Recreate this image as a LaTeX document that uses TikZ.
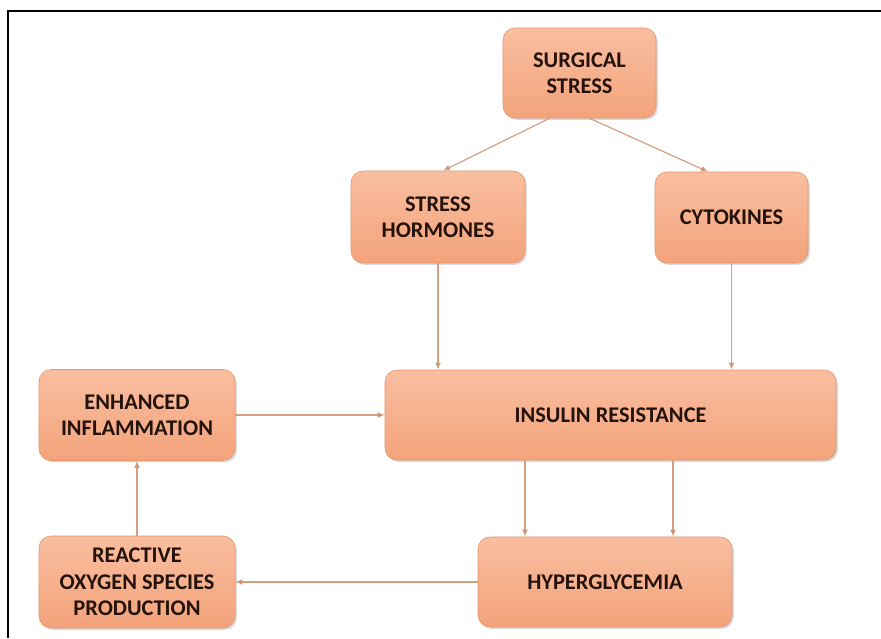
\documentclass[tikz,border=0pt]{standalone}
\usepackage{fontspec}
\setmainfont{Carlito}
\usepackage{xcolor}
\usepackage{tikz}
\usetikzlibrary{arrows.meta, shadows}

\definecolor{boxtop}{RGB}{249,190,160}
\definecolor{boxbot}{RGB}{243,163,122}
\definecolor{boxline}{RGB}{232,148,108}
\definecolor{linkcol}{RGB}{212,158,128}
\definecolor{tipcol}{RGB}{176,112,80}
\definecolor{txtcol}{RGB}{36,18,12}

\begin{document}
\begin{tikzpicture}[x=0.5pt, y=-0.5pt,
    box/.style={rectangle, rounded corners=6pt, draw=boxline, line width=0.3pt,
        top color=boxtop, bottom color=boxbot, align=center, inner sep=2pt,
        text=txtcol, font=\fontsize{11.2}{13.2}\selectfont\bfseries,
        drop shadow={opacity=0.3, shadow xshift=0.9pt, shadow yshift=-0.9pt}},
    link/.style={draw=linkcol, line width=0.6pt,
        -{Latex[length=3.5pt, width=3pt, fill=tipcol]}}]
    \useasboundingbox (0,0) rectangle (881,638);
    \draw[line width=1pt] (7.5,638) -- (7.5,11) -- (881,11);

    \node[box, minimum width=76.5pt, minimum height=45pt] (surg) at (579.5,73) {SURGICAL\\STRESS};
    \node[box, minimum width=87pt, minimum height=46pt] (horm) at (438,217) {STRESS\\HORMONES};
    \node[box, minimum width=76.5pt, minimum height=45.5pt] (cyto) at (731.5,217.5) {CYTOKINES};
    \node[box, minimum width=225.5pt, minimum height=45pt] (insul) at (610.5,415) {INSULIN RESISTANCE};
    \node[box, minimum width=127pt, minimum height=45pt] (hyper) at (605,582) {HYPERGLYCEMIA};
    \node[box, minimum width=98pt, minimum height=45.5pt] (infl) at (137,415) {ENHANCED\\INFLAMMATION};
    \node[box, minimum width=98pt, minimum height=46pt] (ros) at (137,582) {REACTIVE\\OXYGEN SPECIES\\PRODUCTION};

    \draw[link] ([xshift=-15pt]surg.south) -- ([xshift=2.5pt]horm.north);
    \draw[link] ([xshift=5pt]surg.south) -- ([xshift=-11.75pt]cyto.north);
    \draw[link] (horm.south) -- (horm.south |- insul.north);
    \draw[link] (cyto.south) -- (cyto.south |- insul.north);
    \draw[link] ([xshift=-40pt]hyper.north |- insul.south) -- ([xshift=-40pt]hyper.north);
    \draw[link] ([xshift=34pt]hyper.north |- insul.south) -- ([xshift=34pt]hyper.north);
    \draw[link] (hyper.west) -- (ros.east);
    \draw[link] (ros.north) -- (infl.south);
    \draw[link] (infl.east) -- (insul.west);
\end{tikzpicture}
\end{document}
